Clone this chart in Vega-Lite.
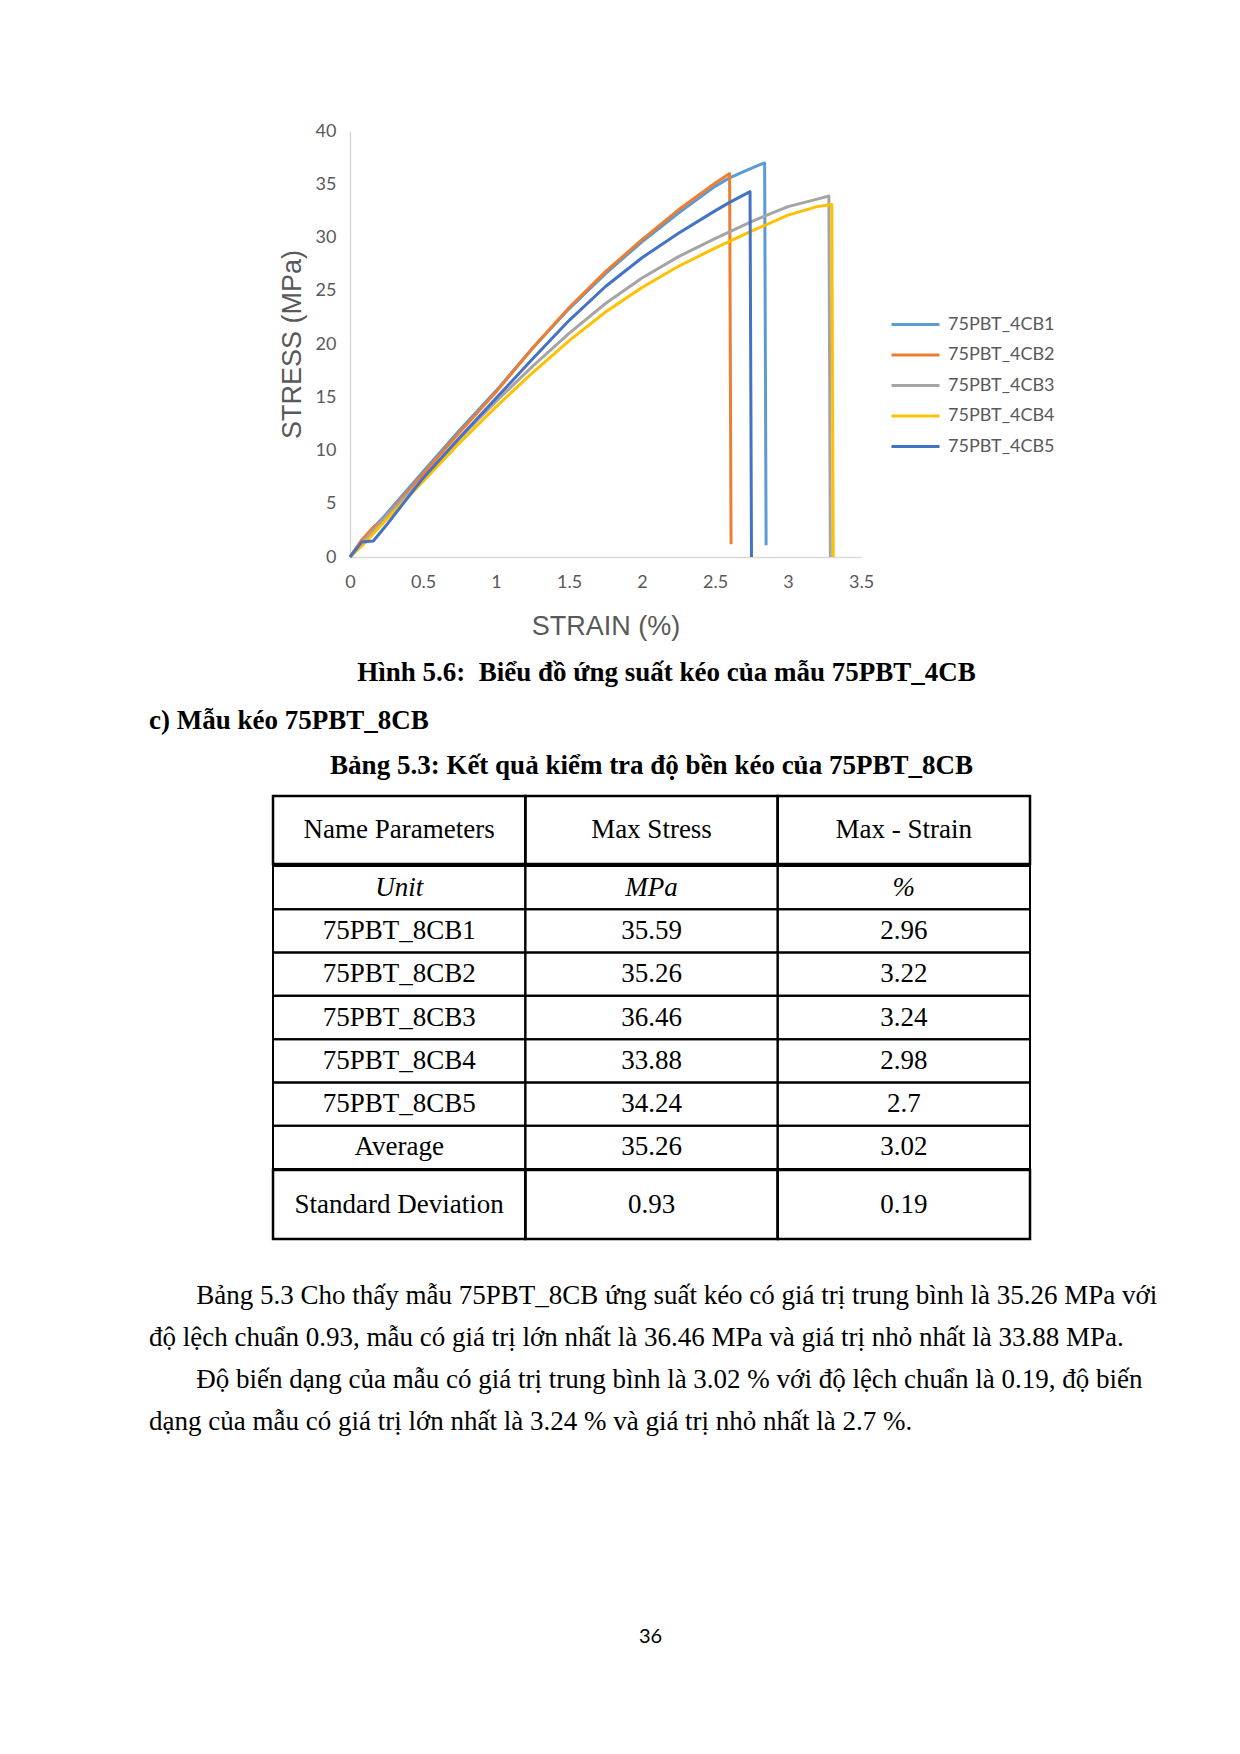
{
  "$schema": "https://vega.github.io/schema/vega-lite/v6.json",
  "background": "white",
  "padding": {"left": 149, "top": 122, "right": 0, "bottom": 0},
  "spacing": 17,
  "resolve": {"scale": {"color": "independent"}, "legend": {"color": "independent"}},
  "config": {"view": {"stroke": null}},
  "datasets": {
    "curves": [
      {"sample": "75PBT_4CB1", "strain": 0, "stress": 0},
      {"sample": "75PBT_4CB1", "strain": 0.08, "stress": 1.5},
      {"sample": "75PBT_4CB1", "strain": 0.15, "stress": 2.6},
      {"sample": "75PBT_4CB1", "strain": 0.22, "stress": 3.6},
      {"sample": "75PBT_4CB1", "strain": 0.5, "stress": 8.0},
      {"sample": "75PBT_4CB1", "strain": 0.75, "stress": 11.9},
      {"sample": "75PBT_4CB1", "strain": 1.0, "stress": 15.6},
      {"sample": "75PBT_4CB1", "strain": 1.25, "stress": 19.6},
      {"sample": "75PBT_4CB1", "strain": 1.5, "stress": 23.3},
      {"sample": "75PBT_4CB1", "strain": 1.75, "stress": 26.6},
      {"sample": "75PBT_4CB1", "strain": 2.0, "stress": 29.6},
      {"sample": "75PBT_4CB1", "strain": 2.25, "stress": 32.3},
      {"sample": "75PBT_4CB1", "strain": 2.5, "stress": 34.8},
      {"sample": "75PBT_4CB1", "strain": 2.6, "stress": 35.6},
      {"sample": "75PBT_4CB1", "strain": 2.7, "stress": 36.2},
      {"sample": "75PBT_4CB1", "strain": 2.8, "stress": 36.8},
      {"sample": "75PBT_4CB1", "strain": 2.84, "stress": 37.0},
      {"sample": "75PBT_4CB1", "strain": 2.85, "stress": 1.1},
      {"sample": "75PBT_4CB2", "strain": 0, "stress": 0},
      {"sample": "75PBT_4CB2", "strain": 0.08, "stress": 1.6},
      {"sample": "75PBT_4CB2", "strain": 0.16, "stress": 2.8},
      {"sample": "75PBT_4CB2", "strain": 0.22, "stress": 3.4},
      {"sample": "75PBT_4CB2", "strain": 0.5, "stress": 7.8},
      {"sample": "75PBT_4CB2", "strain": 0.75, "stress": 11.7},
      {"sample": "75PBT_4CB2", "strain": 1.0, "stress": 15.5},
      {"sample": "75PBT_4CB2", "strain": 1.25, "stress": 19.6},
      {"sample": "75PBT_4CB2", "strain": 1.5, "stress": 23.4},
      {"sample": "75PBT_4CB2", "strain": 1.75, "stress": 26.8},
      {"sample": "75PBT_4CB2", "strain": 2.0, "stress": 29.8},
      {"sample": "75PBT_4CB2", "strain": 2.25, "stress": 32.6},
      {"sample": "75PBT_4CB2", "strain": 2.5, "stress": 35.1},
      {"sample": "75PBT_4CB2", "strain": 2.6, "stress": 36.0},
      {"sample": "75PBT_4CB2", "strain": 2.61, "stress": 1.2},
      {"sample": "75PBT_4CB3", "strain": 0, "stress": 0},
      {"sample": "75PBT_4CB3", "strain": 0.1, "stress": 1.6},
      {"sample": "75PBT_4CB3", "strain": 0.2, "stress": 3.1},
      {"sample": "75PBT_4CB3", "strain": 0.5, "stress": 7.4},
      {"sample": "75PBT_4CB3", "strain": 0.75, "stress": 11.1},
      {"sample": "75PBT_4CB3", "strain": 1.0, "stress": 14.6},
      {"sample": "75PBT_4CB3", "strain": 1.25, "stress": 17.9},
      {"sample": "75PBT_4CB3", "strain": 1.5, "stress": 21.0},
      {"sample": "75PBT_4CB3", "strain": 1.75, "stress": 23.8},
      {"sample": "75PBT_4CB3", "strain": 2.0, "stress": 26.2},
      {"sample": "75PBT_4CB3", "strain": 2.25, "stress": 28.2},
      {"sample": "75PBT_4CB3", "strain": 2.5, "stress": 29.9},
      {"sample": "75PBT_4CB3", "strain": 2.75, "stress": 31.5},
      {"sample": "75PBT_4CB3", "strain": 3.0, "stress": 32.9},
      {"sample": "75PBT_4CB3", "strain": 3.2, "stress": 33.6},
      {"sample": "75PBT_4CB3", "strain": 3.28, "stress": 33.9},
      {"sample": "75PBT_4CB3", "strain": 3.29, "stress": 0},
      {"sample": "75PBT_4CB4", "strain": 0, "stress": 0},
      {"sample": "75PBT_4CB4", "strain": 0.1, "stress": 1.3},
      {"sample": "75PBT_4CB4", "strain": 0.2, "stress": 2.8},
      {"sample": "75PBT_4CB4", "strain": 0.5, "stress": 7.1},
      {"sample": "75PBT_4CB4", "strain": 0.75, "stress": 10.7},
      {"sample": "75PBT_4CB4", "strain": 1.0, "stress": 14.1},
      {"sample": "75PBT_4CB4", "strain": 1.25, "stress": 17.3},
      {"sample": "75PBT_4CB4", "strain": 1.5, "stress": 20.3},
      {"sample": "75PBT_4CB4", "strain": 1.75, "stress": 23.0},
      {"sample": "75PBT_4CB4", "strain": 2.0, "stress": 25.3},
      {"sample": "75PBT_4CB4", "strain": 2.25, "stress": 27.3},
      {"sample": "75PBT_4CB4", "strain": 2.5, "stress": 29.0},
      {"sample": "75PBT_4CB4", "strain": 2.75, "stress": 30.6},
      {"sample": "75PBT_4CB4", "strain": 3.0, "stress": 32.1},
      {"sample": "75PBT_4CB4", "strain": 3.2, "stress": 32.9},
      {"sample": "75PBT_4CB4", "strain": 3.3, "stress": 33.1},
      {"sample": "75PBT_4CB4", "strain": 3.31, "stress": 0},
      {"sample": "75PBT_4CB5", "strain": 0, "stress": 0},
      {"sample": "75PBT_4CB5", "strain": 0.08, "stress": 1.4},
      {"sample": "75PBT_4CB5", "strain": 0.16, "stress": 1.5},
      {"sample": "75PBT_4CB5", "strain": 0.25, "stress": 3.0},
      {"sample": "75PBT_4CB5", "strain": 0.5, "stress": 7.4},
      {"sample": "75PBT_4CB5", "strain": 0.75, "stress": 11.2},
      {"sample": "75PBT_4CB5", "strain": 1.0, "stress": 14.9},
      {"sample": "75PBT_4CB5", "strain": 1.25, "stress": 18.6},
      {"sample": "75PBT_4CB5", "strain": 1.5, "stress": 22.2},
      {"sample": "75PBT_4CB5", "strain": 1.75, "stress": 25.4},
      {"sample": "75PBT_4CB5", "strain": 2.0, "stress": 28.1},
      {"sample": "75PBT_4CB5", "strain": 2.25, "stress": 30.4},
      {"sample": "75PBT_4CB5", "strain": 2.5, "stress": 32.5},
      {"sample": "75PBT_4CB5", "strain": 2.6, "stress": 33.3},
      {"sample": "75PBT_4CB5", "strain": 2.74, "stress": 34.3},
      {"sample": "75PBT_4CB5", "strain": 2.75, "stress": 0}
    ],
    "head": [
      {"name": "Name Parameters", "stress": "Max Stress", "strain": "Max - Strain"}
    ],
    "body": [
      {"name": "Unit", "stress": "MPa", "strain": "%"},
      {"name": "75PBT_8CB1", "stress": 35.59, "strain": 2.96},
      {"name": "75PBT_8CB2", "stress": 35.26, "strain": 3.22},
      {"name": "75PBT_8CB3", "stress": 36.46, "strain": 3.24},
      {"name": "75PBT_8CB4", "stress": 33.88, "strain": 2.98},
      {"name": "75PBT_8CB5", "stress": 34.24, "strain": 2.7},
      {"name": "Average", "stress": 35.26, "strain": 3.02}
    ],
    "std": [
      {"name": "Standard Deviation", "stress": 0.93, "strain": 0.19}
    ]
  },
  "vconcat": [
    {
      "spacing": 0,
      "resolve": {"scale": {"color": "independent"}, "legend": {"color": "independent"}},
      "hconcat": [
        {
          "width": 129,
          "height": 1,
          "data": {"values": [{}]},
          "mark": {"type": "rect", "opacity": 0},
          "encoding": {}
        },
        {
          "width": 511,
          "height": 426,
          "title": {"text": "Hình 5.6:\u00a0 Biểu đồ ứng suất kéo của mẫu 75PBT_4CB", "orient": "bottom", "anchor": "middle", "frame": "bounds", "font": "Liberation Serif", "fontSize": 27, "fontWeight": "bold", "color": "black", "offset": 21},
          "data": {"name": "curves"},
          "mark": {"type": "line", "strokeWidth": 3, "strokeJoin": "round"},
          "encoding": {
            "x": {"field": "strain", "type": "quantitative", "scale": {"domain": [0, 3.5], "nice": false},
              "axis": {"values": [0, 0.5, 1, 1.5, 2, 2.5, 3, 3.5], "format": "~g", "title": "STRAIN (%)", "grid": false, "ticks": false, "domainColor": "#D9D9D9", "domainWidth": 1.5, "labelFont": "Lato", "labelFontSize": 18, "labelColor": "#595959", "labelPadding": 16, "labelFlush": false, "titleFont": "Liberation Sans", "titleFontSize": 27, "titleFontWeight": "normal", "titleColor": "#595959", "titlePadding": 22}},
            "y": {"field": "stress", "type": "quantitative", "scale": {"domain": [0, 40], "nice": false},
              "axis": {"values": [0, 5, 10, 15, 20, 25, 30, 35, 40], "title": "STRESS (MPa)", "grid": false, "ticks": false, "domainColor": "#D9D9D9", "domainWidth": 1.5, "labelFont": "Lato", "labelFontSize": 18, "labelColor": "#595959", "labelPadding": 14, "labelFlush": false, "titleFont": "Liberation Sans", "titleFontSize": 27, "titleFontWeight": "normal", "titleColor": "#595959", "titlePadding": 9}},
            "color": {"field": "sample", "type": "nominal",
              "scale": {"domain": ["75PBT_4CB1", "75PBT_4CB2", "75PBT_4CB3", "75PBT_4CB4", "75PBT_4CB5"], "range": ["#5B9BD5", "#ED7D31", "#A5A5A5", "#FFC000", "#4472C4"]},
              "legend": {"title": null, "orient": "none", "legendX": 552, "legendY": 180, "padding": 0, "symbolType": "M-2,0H2", "symbolSize": 576, "symbolStrokeWidth": 3, "labelFont": "Lato", "labelFontSize": 18, "labelColor": "#595959", "labelOffset": 19, "rowPadding": 7.5}}
          }
        }
      ]
    },
    {
      "width": 1033,
      "height": 5,
      "data": {"values": [{}]},
      "mark": {"type": "rect", "opacity": 0},
      "encoding": {},
      "title": {"text": "c) Mẫu kéo 75PBT_8CB", "orient": "bottom", "anchor": "start", "frame": "group", "offset": 0, "font": "Liberation Serif", "fontSize": 27, "fontWeight": "bold", "color": "black"}
    },
    {
      "spacing": 0,
      "hconcat": [
        {
          "width": 122,
          "height": 1,
          "data": {"values": [{}]},
          "mark": {"type": "rect", "opacity": 0},
          "encoding": {}
        },
        {
          "spacing": -2.5,
          "vconcat": [
            {
              "width": 757,
              "height": 68,
              "title": {"text": "Bảng 5.3: Kết quả kiểm tra độ bền kéo của 75PBT_8CB", "orient": "top", "anchor": "middle", "frame": "group", "offset": 15, "font": "Liberation Serif", "fontSize": 27, "fontWeight": "bold", "color": "black"},
              "data": {"name": "head"},
              "transform": [{"fold": ["name", "stress", "strain"], "as": ["col", "val"]}],
              "encoding": {
                "x": {"field": "col", "type": "nominal", "sort": ["name", "stress", "strain"], "scale": {"paddingInner": 0, "paddingOuter": 0}, "axis": null}
              },
              "layer": [
                {"mark": {"type": "rect", "fill": "transparent", "stroke": "black", "strokeWidth": 2.5}},
                {"mark": {"type": "text", "font": "Liberation Serif", "fontSize": 27, "color": "black"}, "encoding": {"text": {"field": "val", "type": "nominal"}}}
              ]
            },
            {
              "width": 757,
              "height": 303,
              "data": {"name": "body"},
              "transform": [{"fold": ["name", "stress", "strain"], "as": ["col", "val"]}],
              "encoding": {
                "x": {"field": "col", "type": "nominal", "sort": ["name", "stress", "strain"], "scale": {"paddingInner": 0, "paddingOuter": 0}, "axis": null},
                "y": {"field": "name", "type": "nominal", "scale": {"domain": ["Unit", "75PBT_8CB1", "75PBT_8CB2", "75PBT_8CB3", "75PBT_8CB4", "75PBT_8CB5", "Average"], "paddingInner": 0, "paddingOuter": 0}, "axis": null}
              },
              "layer": [
                {"mark": {"type": "rect", "fill": "transparent", "stroke": "black", "strokeWidth": 2}},
                {"transform": [{"filter": "datum.name !== 'Unit'"}], "mark": {"type": "text", "font": "Liberation Serif", "fontSize": 27, "color": "black"}, "encoding": {"text": {"field": "val", "type": "nominal"}}},
                {"transform": [{"filter": "datum.name === 'Unit'"}], "mark": {"type": "text", "font": "Liberation Serif", "fontSize": 27, "fontStyle": "italic", "color": "black"}, "encoding": {"text": {"field": "val", "type": "nominal"}}}
              ]
            },
            {
              "width": 757,
              "height": 69,
              "data": {"name": "std"},
              "transform": [{"fold": ["name", "stress", "strain"], "as": ["col", "val"]}],
              "encoding": {
                "x": {"field": "col", "type": "nominal", "sort": ["name", "stress", "strain"], "scale": {"paddingInner": 0, "paddingOuter": 0}, "axis": null}
              },
              "layer": [
                {"mark": {"type": "rect", "fill": "transparent", "stroke": "black", "strokeWidth": 2.5}},
                {"mark": {"type": "text", "font": "Liberation Serif", "fontSize": 27, "color": "black"}, "encoding": {"text": {"field": "val", "type": "nominal"}}}
              ]
            }
          ]
        }
      ]
    },
    {
      "width": 1033,
      "height": 25,
      "data": {"values": [{}]},
      "mark": {"type": "rect", "opacity": 0},
      "encoding": {},
      "title": {
        "text": [
          "\u200b\u00a0\u00a0\u00a0\u00a0\u00a0\u00a0\u00a0Bảng 5.3 Cho thấy mẫu 75PBT_8CB ứng suất kéo có giá trị trung bình là 35.26 MPa với",
          "độ lệch chuẩn 0.93, mẫu có giá trị lớn nhất là 36.46 MPa và giá trị nhỏ nhất là 33.88 MPa.",
          "\u200b\u00a0\u00a0\u00a0\u00a0\u00a0\u00a0\u00a0Độ biến dạng của mẫu có giá trị trung bình là 3.02 % với độ lệch chuẩn là 0.19, độ biến",
          "dạng của mẫu có giá trị lớn nhất là 3.24 % và giá trị nhỏ nhất là 2.7 %."
        ],
        "orient": "bottom", "anchor": "start", "align": "left", "frame": "group", "offset": 0, "lineHeight": 42,
        "font": "Liberation Serif", "fontSize": 27, "fontWeight": "normal", "color": "black"
      }
    },
    {
      "width": 1033,
      "height": 175,
      "data": {"values": [{}]},
      "mark": {"type": "rect", "opacity": 0},
      "encoding": {},
      "title": {"text": "36", "orient": "bottom", "anchor": "middle", "frame": "group", "dx": -15, "offset": 0, "font": "Lato", "fontSize": 20, "fontWeight": "normal", "color": "black"}
    }
  ]
}
